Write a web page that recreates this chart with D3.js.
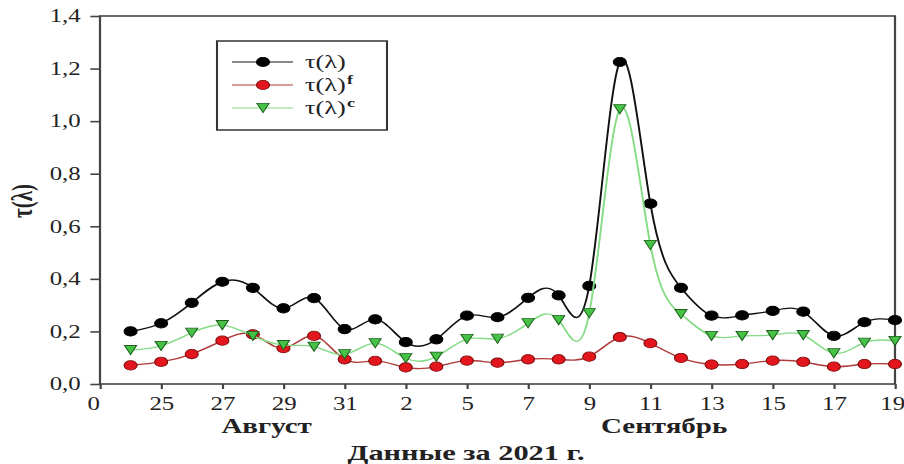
<!DOCTYPE html>
<html>
<head>
<meta charset="utf-8">
<script src="https://cdn.jsdelivr.net/npm/d3@7"></script>
<style>
	body { margin: 0; background: #fff; }
	svg { display: block; }
</style>
</head>
<body>
<div id="chart"></div>
<script>
// точки по порядку дней (24 авг ... 19 сен)
const dayIndex = d3.range(1, 27);
const tauTotal = [0.200, 0.231, 0.309, 0.389, 0.366, 0.288, 0.327, 0.209, 0.246, 0.159, 0.170, 0.260, 0.254,
	0.328, 0.337, 0.373, 1.225, 0.686, 0.366, 0.260, 0.261, 0.278, 0.275, 0.183, 0.235, 0.243];
const tauF = [0.071, 0.084, 0.114, 0.165, 0.189, 0.136, 0.183, 0.094, 0.088, 0.063, 0.066, 0.089, 0.081,
	0.094, 0.094, 0.104, 0.178, 0.155, 0.099, 0.074, 0.076, 0.089, 0.084, 0.066, 0.076, 0.076];
const tauC = [0.129, 0.145, 0.195, 0.224, 0.183, 0.148, 0.142, 0.113, 0.155, 0.098, 0.104, 0.171, 0.172,
	0.231, 0.243, 0.269, 1.045, 0.529, 0.266, 0.183, 0.183, 0.186, 0.186, 0.117, 0.157, 0.164];
const tickIndex = [0, 2, 4, 6, 8, 10, 12, 14, 16, 18, 20, 22, 24, 26];
const tickLabels = ['0', '25', '27', '29', '31', '2', '5', '7', '9', '11', '13', '15', '17', '19'];
const yTicks = [0, 0.2, 0.4, 0.6, 0.8, 1.0, 1.2, 1.4];
const monthNames = ['Август', 'Сентябрь'];
const seriesNames = ['τ(λ)', 'τ(λ)', 'τ(λ)'];
const seriesSup = ['', 'f', 'c'];

const W = 904, H = 464;
const SX = 1.38; // картинка растянута по горизонтали
const px = v => v / SX;
const serif = '"Liberation Serif", "Times New Roman", serif';

const svg = d3.select('#chart').append('svg').attr('width', W).attr('height', H);
const g = svg.append('g').attr('transform', `scale(${SX},1)`);

const x = d3.scaleLinear().domain([0, 26]).range([px(100), px(895)]);
const y = d3.scaleLinear().domain([0, 1.4]).range([384, 16]);

// оси
let yAxis = g.append('g').attr('transform', `translate(${x(0)},0)`)
	.call(d3.axisLeft(y).tickValues(yTicks).tickSize(7).tickPadding(7)
		.tickFormat(d => d.toFixed(1).replace('.', ',')));
let xAxis = g.append('g').attr('transform', `translate(0,${y(0)})`)
	.call(d3.axisBottom(x).tickValues(tickIndex).tickSize(5).tickPadding(8)
		.tickFormat((d, i) => tickLabels[i]));
[yAxis, xAxis].forEach(a => {
	a.select('.domain').remove();
	a.selectAll('line').attr('stroke', '#444').attr('stroke-width', 1.6);
	a.selectAll('text').attr('font-family', serif).attr('font-size', 18).attr('fill', '#222');
});
xAxis.selectAll('.tick').filter(d => d === 0).select('text').attr('dx', px(-7));
xAxis.selectAll('.tick').filter(d => d === 26).select('text').attr('dx', px(-3));

g.append('rect')
	.attr('x', x(0)).attr('y', y(1.4))
	.attr('width', x(26) - x(0)).attr('height', y(0) - y(1.4))
	.attr('fill', 'none').attr('stroke', '#444').attr('stroke-width', 1.6);

// серии
let series = [
	{ values: tauTotal, line: '#111', fill: '#000', stroke: '#000', shape: 'circle' },
	{ values: tauF, line: '#b03a3a', fill: '#e2161c', stroke: '#7a0a0a', shape: 'circle' },
	{ values: tauC, line: '#86dc86', fill: '#46c346', stroke: '#1d5e1d', shape: 'triangle' }
];
const triPath = `M${-4.4},-4.6L4.4,-4.6L0,4.6Z`;

function drawMarker(sel, s) {
	if (s.shape === 'circle') {
		sel.append('circle').attr('r', 4.7)
			.attr('fill', s.fill).attr('stroke', s.stroke).attr('stroke-width', 0.8);
	} else {
		sel.append('path').attr('d', triPath)
			.attr('fill', s.fill).attr('stroke', s.stroke).attr('stroke-width', 0.8);
	}
}

let line = d3.line()
	.x((d, i) => x(dayIndex[i]))
	.y(d => y(d))
	.curve(d3.curveNatural);

series.forEach(s => {
	let sg = g.append('g');
	sg.append('path').attr('d', line(s.values))
		.attr('fill', 'none').attr('stroke', s.line).attr('stroke-width', 1.4);
	sg.selectAll('g').data(s.values).enter().append('g')
		.attr('transform', (d, i) => `translate(${x(dayIndex[i])},${y(d)})`)
		.each(function () { drawMarker(d3.select(this), s); });
});

// легенда
let lg = g.append('g');
lg.append('rect').attr('x', px(217)).attr('y', 41)
	.attr('width', px(170)).attr('height', 89)
	.attr('fill', '#fff').attr('stroke', '#333').attr('stroke-width', 1.5);
const rowY = [62, 85, 108];
series.forEach((s, i) => {
	let row = lg.append('g').attr('transform', `translate(0,${rowY[i]})`);
	row.append('line').attr('x1', px(232)).attr('x2', px(293))
		.attr('stroke', s.line).attr('stroke-width', 1.2);
	drawMarker(row.append('g').attr('transform', `translate(${px(263)},0)`), s);
	let t = row.append('text').attr('x', px(305)).attr('y', 6)
		.attr('font-family', serif).attr('font-size', 19).attr('fill', '#222')
		.text(seriesNames[i]);
	if (seriesSup[i]) {
		t.append('tspan').attr('dy', -7).attr('dx', 1).attr('font-size', 13)
			.attr('font-weight', 'bold').text(seriesSup[i]);
	}
});

// подписи
g.append('text')
	.attr('transform', `translate(${px(32)},201) rotate(-90)`)
	.attr('text-anchor', 'middle')
	.attr('font-family', serif).attr('font-size', 21).attr('font-weight', 'bold').attr('fill', '#222')
	.text('τ(λ)');

g.selectAll('text.month').data(monthNames).enter().append('text')
	.attr('class', 'month')
	.attr('x', (d, i) => x([5.45, 18.45][i])).attr('y', 433)
	.attr('text-anchor', 'middle')
	.attr('font-family', serif).attr('font-size', 21).attr('font-weight', 'bold').attr('fill', '#222')
	.text(d => d);

g.append('text')
	.attr('x', px(466)).attr('y', 460)
	.attr('text-anchor', 'middle')
	.attr('font-family', serif).attr('font-size', 22).attr('font-weight', 'bold').attr('fill', '#222')
	.text('Данные за 2021 г.');
</script>
</body>
</html>
